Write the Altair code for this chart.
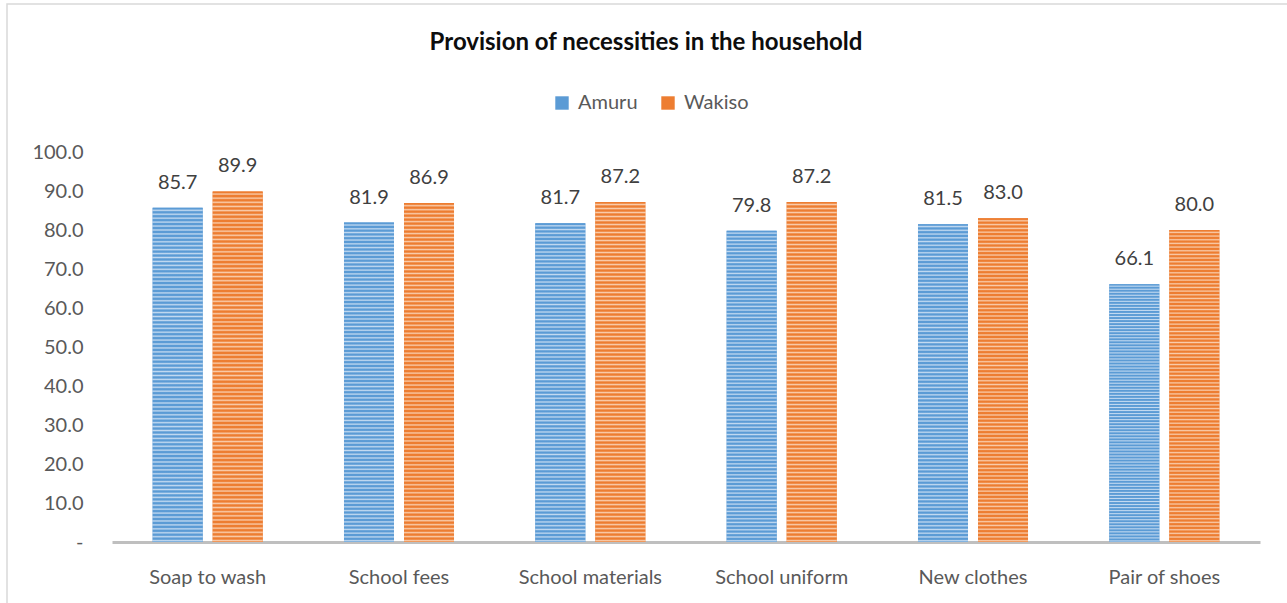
import altair as alt
import pandas as pd

categories = ["Soap to wash", "School fees", "School materials", "School uniform", "New clothes", "Pair of shoes"]
series_names = ["Amuru", "Wakiso"]
amuru = [85.7, 81.9, 81.7, 79.8, 81.5, 66.1]
wakiso = [89.9, 86.9, 87.2, 87.2, 83.0, 80.0]
y_ticks = [0, 10, 20, 30, 40, 50, 60, 70, 80, 90, 100]
title_text = "Provision of necessities in the household"

rows = []
for c, a, w in zip(categories, amuru, wakiso):
    rows.append({"category": c, "series": "Amuru", "value": a})
    rows.append({"category": c, "series": "Wakiso", "value": w})
df = pd.DataFrame(rows)

BLUE, BLUE_L = "#5B9BD5", "#C3DAF1"
ORANGE, ORANGE_L = "#ED7D31", "#F9CCAB"
FONT = "Lato"


def stripes(dark, light, n=85):
    # triangle-wave stripes (soft edges to avoid moire)
    stops = []
    for i in range(n):
        stops.append({"offset": round(i / n, 5), "color": dark})
        stops.append({"offset": round((i + 0.3) / n, 5), "color": dark})
        stops.append({"offset": round((i + 0.65) / n, 5), "color": light})
    stops.append({"offset": 1, "color": dark})
    return {"gradient": "linear", "x1": 0, "y1": 0, "x2": 0, "y2": 1, "stops": stops}


x_enc = alt.X(
    "category:N",
    sort=categories,
    title=None,
    scale=alt.Scale(paddingInner=0.425, paddingOuter=0.2125),
    axis=alt.Axis(
        labelAngle=0, labelFont=FONT, labelFontSize=20, labelColor="#595959",
        domainColor="#BFBFBF", domainWidth=3, ticks=False, tickSize=0,
        labelPadding=25, grid=False,
    ),
)
xo_enc = alt.XOffset("series:N", sort=series_names, scale=alt.Scale(paddingInner=0.167, paddingOuter=0))
y_enc = alt.Y(
    "value:Q",
    title=None,
    scale=alt.Scale(domain=[0, 100], nice=False),
    axis=alt.Axis(
        values=y_ticks, labelExpr="datum.value == 0 ? '-' : format(datum.value, '.1f')",
        labelFont=FONT, labelFontSize=20, labelColor="#595959", domain=False,
        ticks=False, tickSize=0, grid=False, labelPadding=29,
    ),
)

base = alt.Chart(df)

legend_bars = base.mark_bar().encode(
    x=x_enc, xOffset=xo_enc, y=y_enc,
    color=alt.Color(
        "series:N", sort=series_names,
        scale=alt.Scale(domain=series_names, range=[BLUE, ORANGE]),
        legend=alt.Legend(
            title=None, orient="none", direction="horizontal", legendX=440, legendY=-59,
            symbolType="square", symbolSize=180, symbolStrokeWidth=0,
            labelFont=FONT, labelFontSize=20, labelColor="#595959",
            labelOffset=6, columnPadding=20, padding=0,
        ),
    ),
)

striped_bars = base.mark_bar(strokeWidth=0).encode(
    x=x_enc, xOffset=xo_enc, y=y_enc,
    fill=alt.condition(
        alt.datum.series == "Amuru",
        alt.value(stripes(BLUE, BLUE_L)),
        alt.value(stripes(ORANGE, ORANGE_L)),
    ),
)

labels = base.mark_text(
    font=FONT, fontSize=20, color="#404040", baseline="middle", dy=-25
).encode(
    x=x_enc, xOffset=xo_enc, y=y_enc,
    text=alt.Text("value:Q", format=".1f"),
)

frame = alt.Chart(alt.Data(values=[{"k": 1}])).mark_rect(
    fill=None, stroke="#D9D9D9", strokeWidth=1.5
).encode(
    x=alt.value(-105), x2=alt.value(1200), y=alt.value(-148), y2=alt.value(600)
)

title = alt.Chart(alt.Data(values=[{"t": title_text}])).mark_text(
    font=FONT, fontSize=24, fontWeight="bold", color="#0D0D0D",
    align="center", baseline="alphabetic",
).encode(
    x=alt.value(534), y=alt.value(-102), text="t:N"
)

chart = alt.layer(frame, title, legend_bars, striped_bars, labels).properties(
    width=1148,
    height=390,
    background="white",
    autosize=alt.AutoSizeParams(type="none"),
    padding={"left": 112, "top": 152, "right": 27, "bottom": 61},
).configure_view(strokeWidth=0, stroke="transparent")

chart.save("out.html", embed_options={"renderer": "svg", "actions": False})
